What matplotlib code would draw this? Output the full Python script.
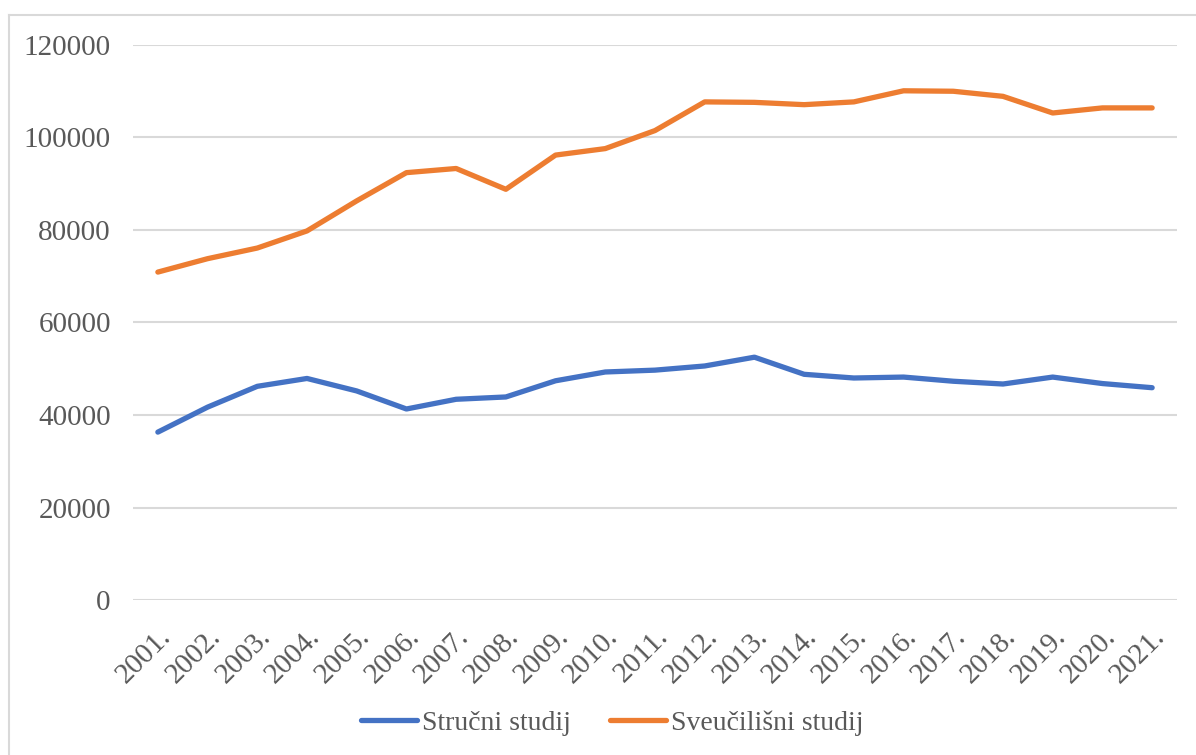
import matplotlib.pyplot as plt
from matplotlib.lines import Line2D
import numpy as np

plt.rcParams['font.family'] = ['Liberation Serif', 'DejaVu Serif']

years = ['2001.', '2002.', '2003.', '2004.', '2005.', '2006.', '2007.',
         '2008.', '2009.', '2010.', '2011.', '2012.', '2013.', '2014.',
         '2015.', '2016.', '2017.', '2018.', '2019.', '2020.', '2021.']
strucni = [36300, 41700, 46200, 47900, 45200, 41300, 43400, 43900, 47400,
           49300, 49700, 50600, 52500, 48800, 48000, 48200, 47300, 46700,
           48200, 46800, 45900]
sveucilisni = [70900, 73800, 76100, 79800, 86300, 92400, 93300, 88800,
               96200, 97600, 101500, 107700, 107600, 107100, 107700, 110100,
               110000, 108900, 105300, 106400, 106400]
yticks = [0, 20000, 40000, 60000, 80000, 100000, 120000]

W, H = 1196, 755
fig = plt.figure(figsize=(W / 100, H / 100), dpi=100)
ax = fig.add_axes([133 / W, 1 - 600 / H, (1177 - 133) / W, (600 - 45) / H])

x = np.arange(len(years))
ax.plot(x, strucni, color='#4472C4', lw=3.8, solid_capstyle='round',
        solid_joinstyle='round', label='Stručni studij')
ax.plot(x, sveucilisni, color='#ED7D31', lw=3.8, solid_capstyle='round',
        solid_joinstyle='round', label='Sveučilišni studij')

ax.set_xlim(-0.5, len(years) - 0.5)
ax.set_ylim(0, 120000)
ax.set_yticks(yticks)
ax.set_yticklabels([str(v) for v in yticks])
ax.set_xticks(x)
ax.set_xticklabels(years, rotation=45, ha='right', va='top',
                   rotation_mode='anchor')
ax.tick_params(axis='both', length=0, labelsize=21, colors='#595959')
ax.tick_params(axis='y', pad=16)
ax.tick_params(axis='x', pad=17)
ax.grid(axis='y', color='#D9D9D9', lw=1.5)
ax.set_axisbelow(True)
for s in ax.spines.values():
    s.set_visible(False)

# chart frame (only top and left edges are visible in the crop)
fig.add_artist(Line2D([9 / W, 9 / W], [0, 1 - 15 / H], color='#D9D9D9', lw=1.5))
fig.add_artist(Line2D([9 / W, 1], [1 - 15 / H, 1 - 15 / H], color='#D9D9D9', lw=1.5))

fig.legend(loc='center', bbox_to_anchor=(0.512, 1 - 723 / H), ncol=2,
           frameon=False, fontsize=20, labelcolor='#595959',
           handlelength=2.0, handletextpad=0.2, columnspacing=1.4)

plt.savefig('out.png', dpi=100)
